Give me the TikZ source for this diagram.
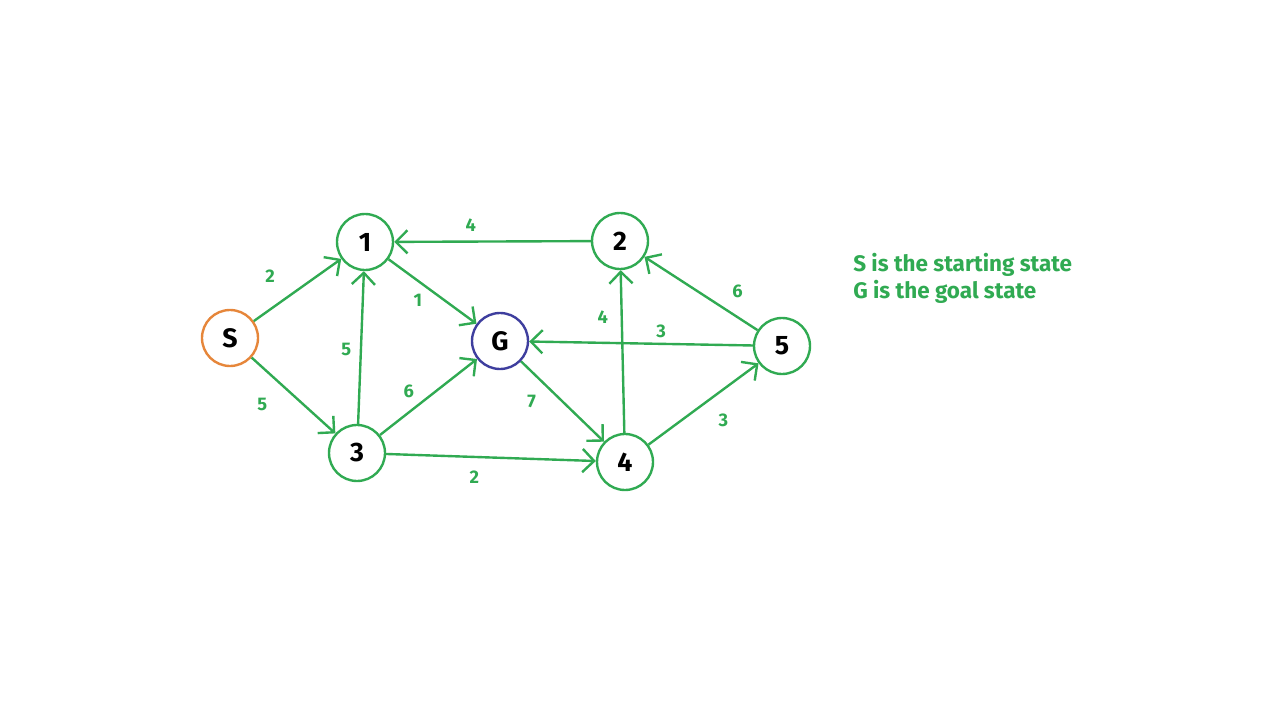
\documentclass[tikz,border=0pt]{standalone}
\usepackage{fontspec}
\setmainfont{Fira Sans}
\definecolor{edgegreen}{RGB}{48,170,82}
\definecolor{startorange}{RGB}{230,134,58}
\definecolor{goalblue}{RGB}{62,62,158}
\usetikzlibrary{arrows.meta}
\tikzset{
  statenode/.style={circle, draw=#1, fill=white, minimum size=1.4cm, inner sep=0pt, font=\fontsize{19}{19}\selectfont\bfseries, line width=1.7pt},
  weightlabel/.style={font=\fontsize{13}{13}\selectfont\bfseries, text=edgegreen},
  graphedge/.style={draw=edgegreen, line width=1.7pt, -{Straight Barb[length=2.9mm, width=5.8mm, line width=1.7pt]}},
  legendtext/.style={anchor=base west, inner sep=0pt, font=\fontsize{16}{16}\selectfont\bfseries, text=edgegreen},
}

\begin{document}
\begin{tikzpicture}
\useasboundingbox (0,0) rectangle (32,18);
\node[statenode=startorange] (S) at (5.75,9.55) {S};
\node[statenode=edgegreen] (n1) at (9.125,11.95) {1};
\node[statenode=edgegreen] (n3) at (8.925,6.675) {3};
\node[statenode=goalblue] (G) at (12.5,9.475) {G};
\node[statenode=edgegreen] (n2) at (15.5,11.975) {2};
\node[statenode=edgegreen] (n4) at (15.625,6.45) {4};
\node[statenode=edgegreen] (n5) at (19.55,9.35) {5};

\draw[graphedge] (S) -- node[weightlabel, pos=0.4, above left=2mm] (w1) {2} (n1);
\draw[graphedge] (S) -- node[weightlabel, pos=0.35, below left=2mm] (w2) {5} (n3);
\draw[graphedge] (n3) -- node[weightlabel, pos=0.49, left=1mm] (w3) {5} (n1);
\draw[graphedge] (n1) -- node[weightlabel, pos=0.45, below left] (w4) {1} (G);
\draw[graphedge] (n3) -- node[weightlabel, pos=0.41, above left] (w5) {6} (G);
\draw[graphedge] (n3) -- node[weightlabel, pos=0.42, below=2mm] (w6) {2} (n4);
\draw[graphedge] (n2) -- node[weightlabel, pos=0.61, above=1mm] (w7) {4} (n1);
\draw[graphedge] (G) -- node[weightlabel, pos=0.3, below left=1mm] (w8) {7} (n4);
\draw[graphedge] (n4) -- node[weightlabel, pos=0.71, left=2mm] (w9) {4} (n2);
\draw[graphedge] (n5) -- node[weightlabel, pos=0.41, above] (w10) {3} (G);
\draw[graphedge] (n5) -- node[weightlabel, pos=0.31, above right=1mm] (w11) {6} (n2);
\draw[graphedge] (n4) -- node[weightlabel, pos=0.53, below right=1.5mm] (w12) {3} (n5);

\node[legendtext] (legendS) at (21.325,11.2) {S is the starting state};
\node[legendtext] (legendG) at (21.325,10.525) {G is the goal state};
\end{tikzpicture}
\end{document}
